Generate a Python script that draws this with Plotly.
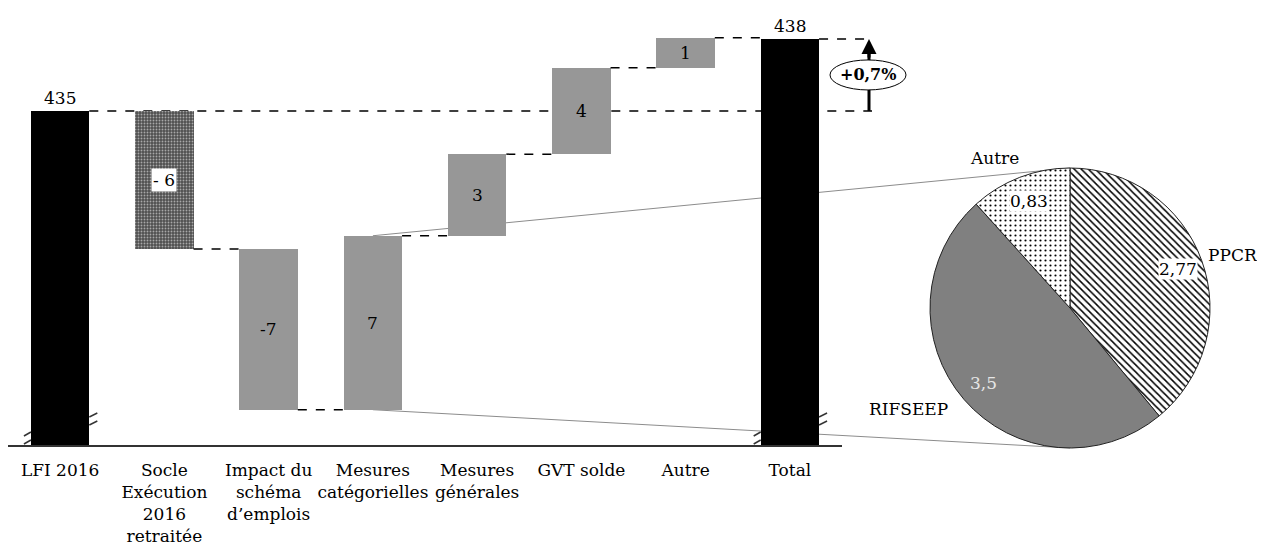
import math
import plotly.graph_objects as go

# ── Data ──────────────────────────────────────────────────────────────────────
categories = ["LFI 2016", "Socle<br>Exécution<br>2016<br>retraitée",
              "Impact du<br>schéma<br>d’emplois", "Mesures<br>catégorielles",
              "Mesures<br>générales", "GVT solde", "Autre", "Total"]
start_value = 435
end_value = 438
deltas = [-5.75, -6.7, 7.25, 3.4, 3.6, 1.25]
delta_labels = ["- 6", "-7", "7", "3", "4", "1"]

pie_labels = ["PPCR", "RIFSEEP", "Autre"]
pie_values = [2.77, 3.5, 0.83]
pie_value_labels = ["2,77", "3,5", "0,83"]

# ── Layout constants (pixels of the 1265x547 page) ────────────────────────────
W, H = 1265, 547
OFF = 8                        # the page body margin shifts the figure by 8px
AX_X0, AX_X1 = 8, 842          # x-axis span
AX_TOP, AX_BASE = 8, 445       # y-axis span
Y_LO, Y_HI = 421.08, 439.29    # broken axis: only the top of the scale is shown
BAR_W = 0.56
PIE_CX, PIE_CY, PIE_R = 1070, 308, 140
ARROW_X = 869
FONT = "DejaVu Serif"
GREY = "#979797"
# where the slice names sit, as multiples of the radius along the slice middle
NAME_POS = {"PPCR": (1.24, 1.12), "RIFSEEP": (1.52, 1.1), "Autre": (1.5, 1.15)}


def px_x(i):
    return AX_X0 + (i + 0.5) * (AX_X1 - AX_X0) / len(categories)


def px_y(v):
    return AX_BASE - (v - Y_LO) / (Y_HI - Y_LO) * (AX_BASE - AX_TOP)


def pap_x(px):
    return (px - OFF) / W


def pap_y(py):
    return 1 - (py - OFF) / H


def label(x, y, text, size=17, **kw):
    d = dict(x=x, y=y, xref="paper", yref="paper", text=text, showarrow=False,
             xanchor="center", yanchor="middle",
             font=dict(family=FONT, size=size, color=kw.pop("color", "black")))
    d.update(kw)
    return d


# ── Waterfall geometry ────────────────────────────────────────────────────────
bases, heights, levels = [0], [start_value], [start_value]
cum = start_value
for d in deltas:
    bases.append(cum if d > 0 else cum + d)
    heights.append(abs(d))
    cum += d
    levels.append(cum)
bases.append(0)
heights.append(end_value)
levels.append(end_value)

colors = ["black", "#505050"] + [GREY] * 5 + ["black"]
patterns = ["", "."] + [""] * 6

fig = go.Figure()
fig.add_trace(go.Bar(
    x=list(range(len(categories))), y=heights, base=bases, width=BAR_W,
    marker=dict(color=colors, line=dict(width=0),
                pattern=dict(shape=patterns, fgcolor="#c0c0c0",
                             bgcolor="#474747", size=3, solidity=0.3)),
    hoverinfo="skip",
))

shapes = []
annotations = []
half = BAR_W / 2 * (AX_X1 - AX_X0) / len(categories)
dash = dict(color="black", width=1.5, dash="dash")

# connectors between successive bars
for i in range(2, len(categories)):
    lvl = levels[i - 1]
    shapes.append(dict(type="line", xref="paper", yref="paper",
                       x0=pap_x(px_x(i - 1) + half), x1=pap_x(px_x(i) - half),
                       y0=pap_y(px_y(lvl)), y1=pap_y(px_y(lvl)), line=dash))
# start and end level lines out to the arrow
shapes.append(dict(type="line", xref="paper", yref="paper", layer="below",
                   x0=pap_x(px_x(0) + half), x1=pap_x(ARROW_X + 3),
                   y0=pap_y(px_y(start_value)), y1=pap_y(px_y(start_value)),
                   line=dash))
shapes.append(dict(type="line", xref="paper", yref="paper",
                   x0=pap_x(px_x(len(categories) - 1) + half), x1=pap_x(ARROW_X + 3),
                   y0=pap_y(px_y(end_value)), y1=pap_y(px_y(end_value)),
                   line=dash))

# zoom lines from "Mesures catégorielles" to the pie
zi = 3
for lvl, py_end in [(levels[zi], PIE_CY - PIE_R), (levels[zi - 1], PIE_CY + PIE_R)]:
    shapes.append(dict(type="line", xref="paper", yref="paper", layer="below",
                       x0=pap_x(px_x(zi)), y0=pap_y(px_y(lvl)),
                       x1=pap_x(PIE_CX), y1=pap_y(py_end),
                       line=dict(color="#8c8c8c", width=1)))

# broken-axis marks on the two full bars
for i in (0, len(categories) - 1):
    cx = px_x(i)
    for dy in (0, 8):
        shapes.append(dict(type="line", xref="paper", yref="paper",
                           x0=pap_x(cx + half), y0=pap_y(AX_BASE - 20 - dy),
                           x1=pap_x(cx + half + 8), y1=pap_y(AX_BASE - 24 - dy),
                           line=dict(color="#333", width=1.5)))
        shapes.append(dict(type="line", xref="paper", yref="paper",
                           x0=pap_x(cx - half - 7), y0=pap_y(AX_BASE - 1 - dy),
                           x1=pap_x(cx - half), y1=pap_y(AX_BASE - 5 - dy),
                           line=dict(color="#333", width=1.5)))

# value labels
for i, lab in enumerate(delta_labels, start=1):
    mid = bases[i] + heights[i] / 2
    annotations.append(label(pap_x(px_x(i)), pap_y(px_y(mid)), lab,
                             bgcolor="white" if patterns[i] else None, borderpad=1))
for i, v in [(0, start_value), (len(categories) - 1, end_value)]:
    annotations.append(label(pap_x(px_x(i)), pap_y(px_y(v)), str(v),
                             yanchor="bottom", yshift=1))

# growth arrow, interrupted by the ellipse
y_start_px, y_end_px = px_y(start_value), px_y(end_value)
ey = (y_start_px + y_end_px) / 2
shapes.append(dict(type="line", xref="paper", yref="paper",
                   x0=pap_x(ARROW_X), x1=pap_x(ARROW_X),
                   y0=pap_y(y_start_px), y1=pap_y(y_end_px + 12),
                   line=dict(color="black", width=3)))
shapes.append(dict(type="circle", xref="paper", yref="paper",
                   x0=pap_x(ARROW_X - 39), x1=pap_x(ARROW_X + 37),
                   y0=pap_y(ey - 15), y1=pap_y(ey + 15),
                   fillcolor="white", line=dict(color="black", width=1)))
annotations.append(dict(x=pap_x(ARROW_X), y=pap_y(y_end_px), xref="paper", yref="paper",
                        ax=0, ay=20, text="", showarrow=True, arrowhead=2,
                        arrowsize=1, arrowwidth=3, arrowcolor="black"))
growth = (end_value - start_value) / start_value * 100
annotations.append(label(pap_x(ARROW_X - 1), pap_y(ey),
                         f"<b>+{growth:.1f}%</b>".replace(".", ","), size=16))

# ── Pie ───────────────────────────────────────────────────────────────────────
fig.add_trace(go.Pie(
    labels=pie_labels, values=pie_values, sort=False, direction="clockwise",
    rotation=0, textinfo="none", hoverinfo="label+value",
    domain=dict(x=[pap_x(PIE_CX - PIE_R), pap_x(PIE_CX + PIE_R)],
                y=[pap_y(PIE_CY + PIE_R), pap_y(PIE_CY - PIE_R)]),
    marker=dict(colors=["white", "#808080", "white"],
                line=dict(color="#222", width=1),
                pattern=dict(shape=["\\", "", "."], fgcolor="black",
                             bgcolor=["white", "#808080", "white"],
                             size=[5, 8, 5], solidity=[0.3, 0.3, 0.15])),
))

total = sum(pie_values)
acc = 0
for lab, val, vlab in zip(pie_labels, pie_values, pie_value_labels):
    theta = math.radians((acc + val / 2) / total * 360)
    acc += val
    sx, sy = math.sin(theta), -math.cos(theta)
    annotations.append(label(
        pap_x(PIE_CX + 0.82 * PIE_R * sx), pap_y(PIE_CY + 0.82 * PIE_R * sy), vlab,
        bgcolor=None if lab == "RIFSEEP" else "white", borderpad=0,
        color="#e6e6e6" if lab == "RIFSEEP" else "black"))
    fx, fy = NAME_POS[lab]
    annotations.append(label(
        pap_x(PIE_CX + fx * PIE_R * sx), pap_y(PIE_CY + fy * PIE_R * sy), lab))

fig.update_layout(
    width=W, height=H,
    margin=dict(l=0, r=0, t=0, b=0),
    paper_bgcolor="white", plot_bgcolor="white",
    showlegend=False, bargap=0,
    xaxis=dict(domain=[pap_x(AX_X0), pap_x(AX_X1)], range=[-0.5, len(categories) - 0.5],
               tickmode="array", tickvals=list(range(len(categories))),
               ticktext=categories, ticks="", showgrid=False, zeroline=False,
               showline=True, linecolor="#333", linewidth=1.5, automargin=False,
               ticklabelstandoff=9,
               tickfont=dict(family=FONT, size=17, color="black")),
    yaxis=dict(domain=[pap_y(AX_BASE), pap_y(AX_TOP)], range=[Y_LO, Y_HI],
               visible=False, showgrid=False, zeroline=False),
    shapes=shapes, annotations=annotations,
)

fig.write_html("out.html")
